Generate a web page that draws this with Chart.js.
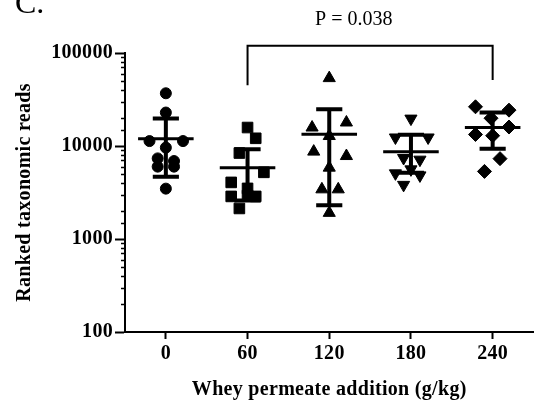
<!DOCTYPE html>
<html>
<head>
<meta charset="utf-8">
<script src="https://cdn.jsdelivr.net/npm/chart.js@4.4.1/dist/chart.umd.min.js"></script>
<style>
  html, body { margin: 0; padding: 0; background: #fff; }
  #wrap { width: 542px; height: 406px; }
</style>
</head>
<body>
<div id="wrap"><canvas id="chart"></canvas></div>
<script>
// x categories: whey permeate addition (g/kg)
const doseLabels = ['0', '60', '120', '180', '240'];

// ranked taxonomic reads per sample
const reads0 = [36900, 22900, 11300, 11300, 9610, 7360, 6890, 6000, 6000, 3480];
const reads60 = [15800, 12100, 8400, 5210, 4060, 3500, 2870, 2930, 2870, 2130];
const reads120 = [53700, 15800, 17900, 12800, 8700, 7800, 5850, 3420, 3420, 1910];
const reads180 = [19700, 12350, 12350, 7430, 7130, 5610, 5080, 4830, 3820];
const reads240 = [26400, 24300, 19900, 16000, 13300, 12900, 7310, 5330];

// sideways scatter of each point inside its column (category units)
const spread0 = [0, 0, -0.2, 0.21, 0, -0.1, 0.1, -0.1, 0.1, 0];
const spread60 = [0, 0.1, -0.1, 0.2, -0.2, 0, -0.2, 0, 0.1, -0.1];
const spread120 = [0, -0.21, 0.21, 0, -0.19, 0.21, 0, -0.09, 0.11, 0];
const spread180 = [0, -0.19, 0.21, -0.09, 0.11, 0, -0.19, 0.11, -0.09];
const spread240 = [-0.21, 0.2, -0.02, 0.2, -0.21, 0, 0.09, -0.1];

// group mean and the ends of the error bars
const groupMeans = [12000, 5850, 13370, 8660, 15780];
const barUpper = [19700, 9210, 24800, 13200, 22900];
const barLower = [4680, 2600, 2310, 5170, 9370];

// significance bracket 60 vs 240
const bracketFrom = 1;
const bracketTo = 4;
const bracketTop = 120000;
const bracketEnds = [45100, 51400];
const pText = 'P = 0.038';
const pTextAt = { x: 2.3, y: 230000 };

const groups = [reads0, reads60, reads120, reads180, reads240];
const spreads = [spread0, spread60, spread120, spread180, spread240];
const shapes = ['circle', 'rect', 'triangle', 'triangle', 'rectRot'];
const rotations = [0, 0, 0, 180, 0];
const radii = [5.5, 7.5, 7, 7, 7];

const isDecade = v => Math.abs(Math.log10(v) - Math.round(Math.log10(v))) < 1e-9;
const SERIF = "'Liberation Serif', 'Times New Roman', serif";
const SPACING = '0.3px';

const extras = {
    id: 'extras',
    beforeUpdate(chart) { chart.ctx.letterSpacing = SPACING; },
    beforeDraw(chart) { chart.ctx.letterSpacing = SPACING; },
    afterDatasetsDraw(chart) {
        const { ctx, scales: { x, y } } = chart;
        ctx.save();
        ctx.strokeStyle = '#000';
        ctx.lineCap = 'butt';
        groupMeans.forEach((m, i) => {
            const cx = x.getPixelForValue(i);
            const meanHalf = x.getPixelForValue(i + 0.34) - cx;
            const capHalf = x.getPixelForValue(i + 0.16) - cx;
            const top = y.getPixelForValue(barUpper[i]);
            const bottom = y.getPixelForValue(barLower[i]);
            const my = y.getPixelForValue(m);
            ctx.lineWidth = 4;
            ctx.beginPath();
            ctx.moveTo(cx, top); ctx.lineTo(cx, bottom);
            ctx.moveTo(cx - capHalf, top); ctx.lineTo(cx + capHalf, top);
            ctx.moveTo(cx - capHalf, bottom); ctx.lineTo(cx + capHalf, bottom);
            ctx.stroke();
            ctx.lineWidth = 3;
            ctx.beginPath();
            ctx.moveTo(cx - meanHalf, my); ctx.lineTo(cx + meanHalf, my);
            ctx.stroke();
        });

        // bracket
        const bx1 = x.getPixelForValue(bracketFrom);
        const bx2 = x.getPixelForValue(bracketTo);
        const by = y.getPixelForValue(bracketTop);
        ctx.lineWidth = 2;
        ctx.beginPath();
        ctx.moveTo(bx1, y.getPixelForValue(bracketEnds[0]));
        ctx.lineTo(bx1, by);
        ctx.lineTo(bx2, by);
        ctx.lineTo(bx2, y.getPixelForValue(bracketEnds[1]));
        ctx.stroke();

        ctx.letterSpacing = '0px';
        ctx.fillStyle = '#000';
        ctx.font = '20px ' + SERIF;
        ctx.textAlign = 'center';
        ctx.textBaseline = 'middle';
        ctx.fillText(pText, x.getPixelForValue(pTextAt.x), y.getPixelForValue(pTextAt.y));
        ctx.restore();
    },
    afterDraw(chart) {
        const { ctx, scales: { y } } = chart;
        ctx.save();
        // short minor ticks on the log axis
        ctx.strokeStyle = '#000';
        ctx.lineWidth = 1.5;
        ctx.beginPath();
        y.ticks.forEach(t => {
            if (isDecade(t.value)) return;
            const py = Math.round(y.getPixelForValue(t.value)) + 0.5;
            ctx.moveTo(y.right - 4, py);
            ctx.lineTo(y.right, py);
        });
        ctx.stroke();
        // panel letter
        ctx.letterSpacing = '0px';
        ctx.fillStyle = '#000';
        ctx.font = '32px ' + SERIF;
        ctx.textAlign = 'left';
        ctx.textBaseline = 'alphabetic';
        ctx.fillText('C.', 15, 13);
        ctx.restore();
    }
};

const chart = new Chart(document.getElementById('chart'), {
    type: 'scatter',
    data: {
        datasets: groups.map((vals, i) => ({
            label: doseLabels[i],
            data: vals.map((v, k) => ({ x: i + spreads[i][k], y: v })),
            pointStyle: shapes[i],
            rotation: rotations[i],
            pointRadius: radii[i],
            pointHoverRadius: radii[i],
            backgroundColor: '#000',
            borderColor: '#000',
            borderWidth: 1
        }))
    },
    options: {
        responsive: true,
        maintainAspectRatio: false,
        animation: false,
        events: [],
        layout: { padding: { top: 53, right: 0, left: 0, bottom: 0 } },
        plugins: {
            legend: { display: false },
            tooltip: { enabled: false }
        },
        scales: {
            x: {
                type: 'linear',
                min: -0.5,
                max: 4.5,
                afterBuildTicks: scale => {
                    scale.ticks = doseLabels.map((_, i) => ({ value: i }));
                },
                afterFit: scale => { scale.height = 74; },
                border: { color: '#000', width: 2 },
                grid: { drawOnChartArea: false, tickLength: 7, tickWidth: 2, tickColor: '#000' },
                ticks: {
                    autoSkip: false,
                    maxRotation: 0,
                    padding: 3,
                    color: '#000',
                    font: { family: SERIF, size: 20, weight: 'bold' },
                    callback: v => doseLabels[v] ?? ''
                },
                title: {
                    display: true,
                    text: 'Whey permeate addition (g/kg)',
                    color: '#000',
                    font: { family: SERIF, size: 20, weight: 'bold' },
                    padding: { top: 0, bottom: 4 }
                }
            },
            y: {
                type: 'logarithmic',
                min: 100,
                max: 100000,
                afterFit: scale => { scale.width = 125; },
                border: { color: '#000', width: 2 },
                grid: {
                    drawOnChartArea: false,
                    tickLength: 10,
                    tickWidth: 2,
                    tickColor: ctx => (ctx.tick && isDecade(ctx.tick.value)) ? '#000' : 'rgba(0,0,0,0)'
                },
                ticks: {
                    autoSkip: false,
                    padding: 2,
                    color: '#000',
                    font: { family: SERIF, size: 20, weight: 'bold' },
                    callback: v => isDecade(v) ? String(Math.round(v)) : ''
                },
                title: {
                    display: true,
                    text: 'Ranked taxonomic reads',
                    color: '#000',
                    font: { family: SERIF, size: 20, weight: 'bold' },
                    padding: { top: 13, bottom: 0 }
                }
            }
        }
    },
    plugins: [extras]
});
</script>
</body>
</html>
